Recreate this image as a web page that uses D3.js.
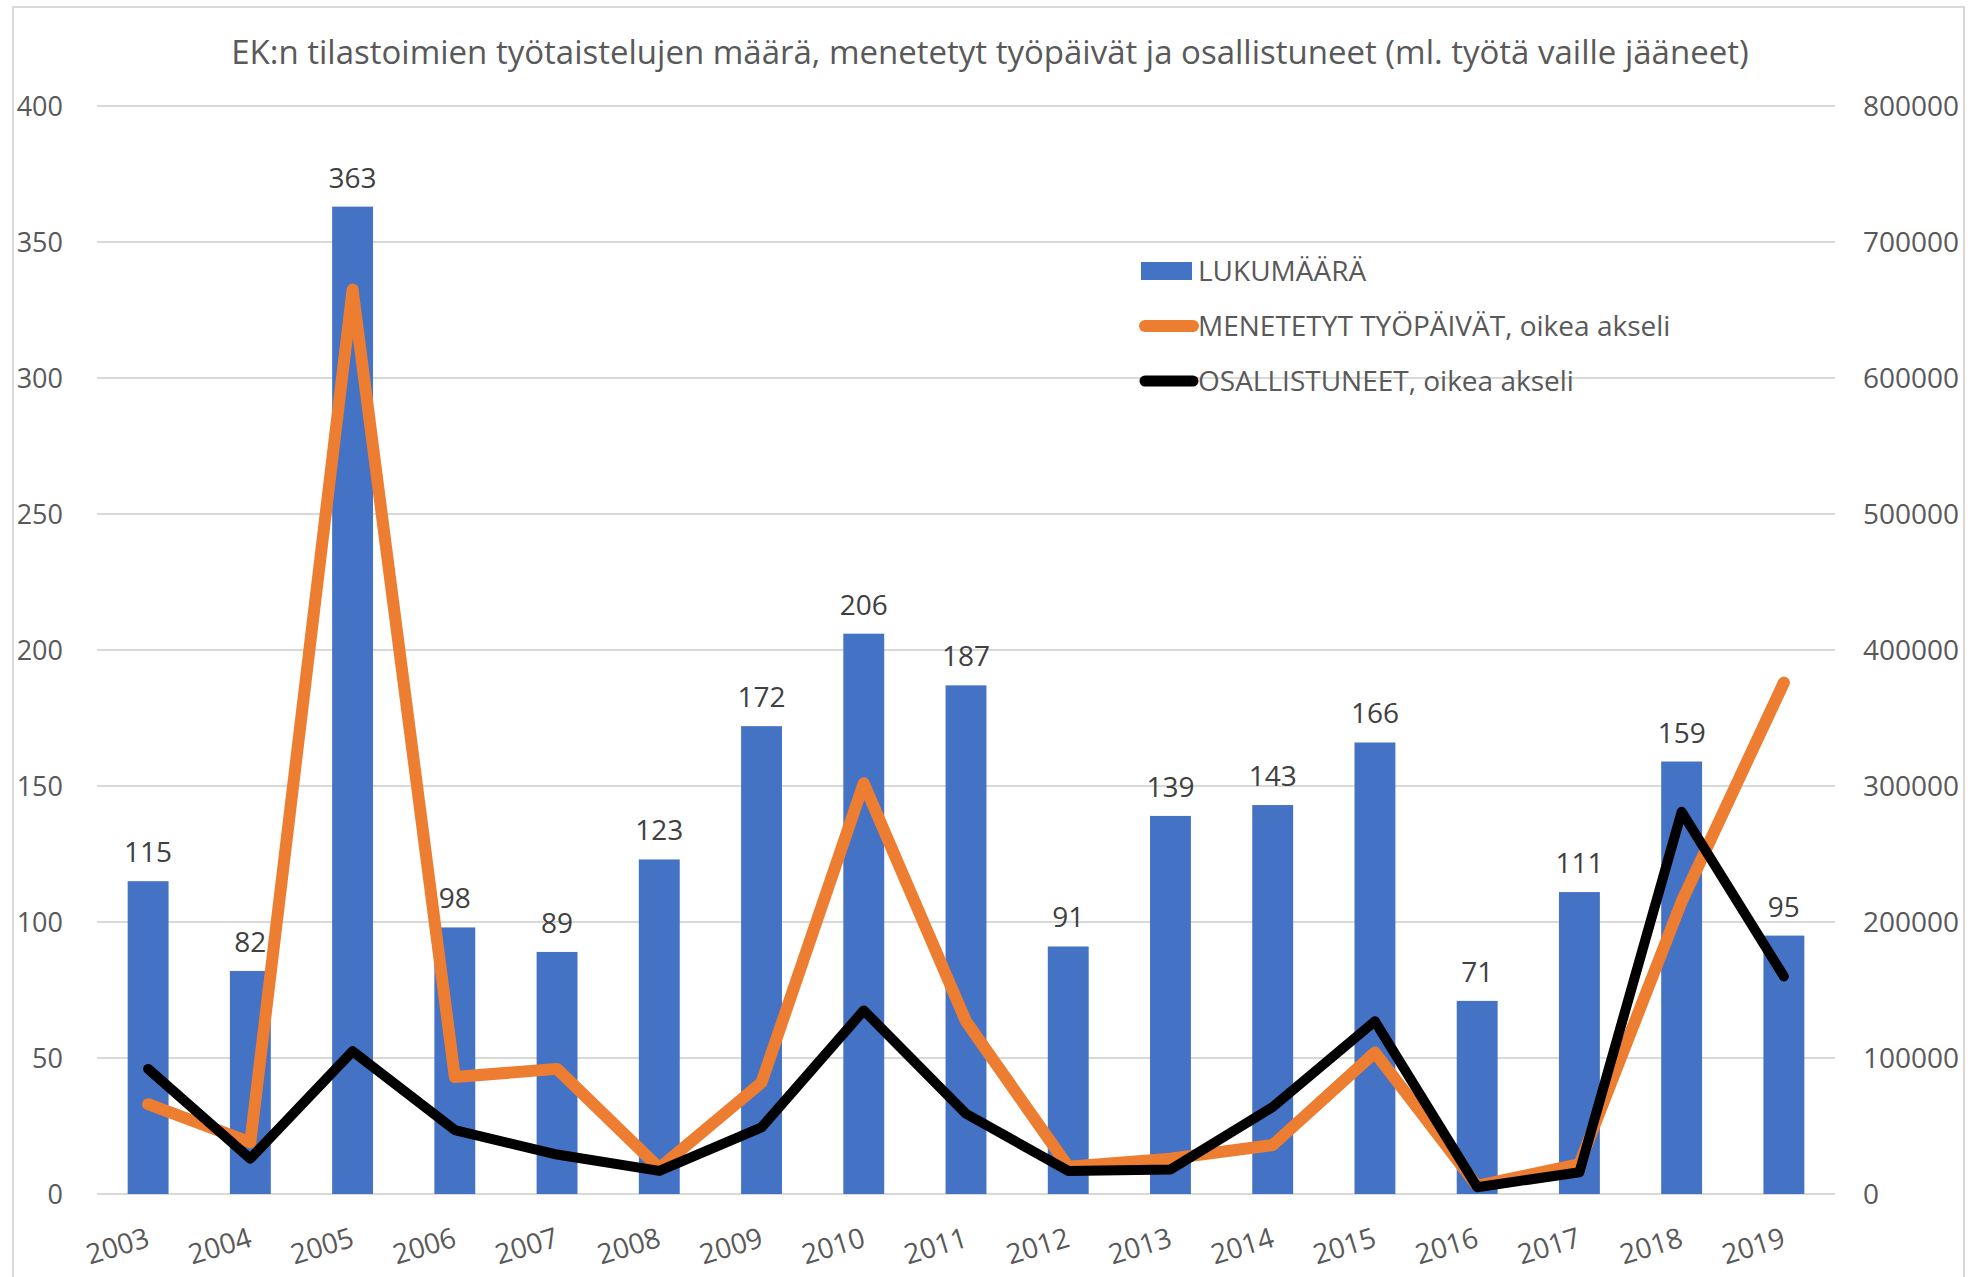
<!DOCTYPE html>
<html>
<head>
<meta charset="utf-8">
<script src="https://cdn.jsdelivr.net/npm/d3@7"></script>
<style>
  html, body { margin: 0; padding: 0; background: #fff; }
  svg { display: block; font-family: "Open Sans", "Noto Sans", sans-serif; }
</style>
</head>
<body>
<svg id="chart" width="1977" height="1277"></svg>
<script>
// ---- Data ----
const years = ["2003","2004","2005","2006","2007","2008","2009","2010","2011","2012","2013","2014","2015","2016","2017","2018","2019"];
const lukumaara = [115, 82, 363, 98, 89, 123, 172, 206, 187, 91, 139, 143, 166, 71, 111, 159, 95];
const menetetytTyopaivat = [66000, 38000, 665000, 86000, 92000, 19000, 82000, 302000, 127000, 20000, 26000, 36000, 104000, 6000, 22000, 215000, 376000];
const osallistuneet = [92000, 26000, 105000, 47000, 29000, 17000, 49000, 135000, 59000, 17000, 18000, 64000, 127000, 5000, 16000, 281000, 160000];
const leftTicks = [0, 50, 100, 150, 200, 250, 300, 350, 400];
const rightTicks = [0, 100000, 200000, 300000, 400000, 500000, 600000, 700000, 800000];
const title = "EK:n tilastoimien työtaistelujen määrä, menetetyt työpäivät ja osallistuneet (ml. työtä vaille jääneet)";
const legendItems = [
  {label: "LUKUMÄÄRÄ", type: "bar", color: "#4472C4"},
  {label: "MENETETYT TYÖPÄIVÄT, oikea akseli", type: "line", color: "#ED7D31", w: 12},
  {label: "OSALLISTUNEET, oikea akseli", type: "line", color: "#000000", w: 11}
];

// ---- Layout ----
const svg = d3.select("#chart");
const plot = {left: 97, right: 1835, top: 106, bottom: 1194};
const textGray = "#595959";
const labelSize = 28;

// outer chart border
svg.append("rect")
  .attr("x", 13).attr("y", 7).attr("width", 1951).attr("height", 1300)
  .attr("fill", "none").attr("stroke", "#d9d9d9").attr("stroke-width", 2);

const x = d3.scaleBand().domain(years).range([plot.left, plot.right])
  .paddingInner(0.6).paddingOuter(0.3);
const yL = d3.scaleLinear().domain([0, 400]).range([plot.bottom, plot.top]);
const yR = d3.scaleLinear().domain([0, 800000]).range([plot.bottom, plot.top]);

// gridlines
svg.append("g").selectAll("line").data(leftTicks).join("line")
  .attr("x1", plot.left).attr("x2", plot.right)
  .attr("y1", d => yL(d)).attr("y2", d => yL(d))
  .attr("stroke", "#d9d9d9").attr("stroke-width", 2);

// left axis
const leftAxis = d3.axisLeft(yL).tickValues(leftTicks).tickSize(0).tickPadding(0);
const gL = svg.append("g").attr("transform", "translate(63,0)").call(leftAxis);
gL.select(".domain").remove();
gL.selectAll("text").attr("fill", textGray).attr("font-size", 27)
  .attr("font-family", "'Open Sans', sans-serif").attr("dy", "0.34em");

// right axis
const rightAxis = d3.axisRight(yR).tickValues(rightTicks).tickSize(0).tickPadding(0)
  .tickFormat(d3.format("d"));
const gR = svg.append("g").attr("transform", "translate(1863,0)").call(rightAxis);
gR.select(".domain").remove();
gR.selectAll("text").attr("fill", textGray).attr("font-size", labelSize)
  .attr("font-family", "'Open Sans', sans-serif").attr("dy", "0.34em");

// bars
svg.append("g").selectAll("rect").data(years).join("rect")
  .attr("x", d => x(d)).attr("width", x.bandwidth())
  .attr("y", (d, i) => yL(lukumaara[i]))
  .attr("height", (d, i) => yL(0) - yL(lukumaara[i]))
  .attr("fill", "#4472C4");

// data labels
svg.append("g").selectAll("text").data(years).join("text")
  .attr("x", d => x(d) + x.bandwidth() / 2)
  .attr("y", (d, i) => yL(lukumaara[i]) - 19)
  .attr("text-anchor", "middle")
  .attr("font-size", labelSize).attr("fill", "#404040")
  .text((d, i) => lukumaara[i]);

// lines
const lineGen = vals => d3.line()
  .x((d, i) => x(years[i]) + x.bandwidth() / 2)
  .y(d => yR(d))(vals);

svg.append("path").attr("d", lineGen(menetetytTyopaivat))
  .attr("fill", "none").attr("stroke", "#ED7D31").attr("stroke-width", 12)
  .attr("stroke-linejoin", "round").attr("stroke-linecap", "round");
svg.append("path").attr("d", lineGen(osallistuneet))
  .attr("fill", "none").attr("stroke", "#000").attr("stroke-width", 10)
  .attr("stroke-linejoin", "round").attr("stroke-linecap", "round");

// x axis labels (rotated)
const xAxis = d3.axisBottom(x).tickSize(0).tickPadding(0);
const gX = svg.append("g").attr("transform", `translate(0,${plot.bottom})`).call(xAxis);
gX.select(".domain").remove();
gX.selectAll("text")
  .attr("fill", textGray).attr("font-size", labelSize)
  .attr("font-family", "'Open Sans', sans-serif")
  .attr("text-anchor", "end")
  .attr("y", 0).attr("dy", 0)
  .attr("transform", "translate(3,52) rotate(-17)");

// title
svg.append("text")
  .attr("x", 990).attr("y", 64)
  .attr("text-anchor", "middle")
  .attr("font-size", 33).attr("fill", textGray)
  .text(title);

// legend
const lg = svg.append("g").attr("transform", "translate(1140,271)");
legendItems.forEach((it, i) => {
  const gy = i * 55;
  if (it.type === "bar") {
    lg.append("rect").attr("x", 1).attr("y", gy - 9).attr("width", 51).attr("height", 18).attr("fill", it.color);
  } else {
    lg.append("line").attr("x1", 5).attr("x2", 53).attr("y1", gy).attr("y2", gy)
      .attr("stroke", it.color).attr("stroke-width", it.w).attr("stroke-linecap", "round");
  }
  lg.append("text").attr("x", 58).attr("y", gy).attr("dy", "0.35em")
    .attr("font-size", labelSize).attr("fill", textGray).text(it.label);
});
</script>
</body>
</html>
